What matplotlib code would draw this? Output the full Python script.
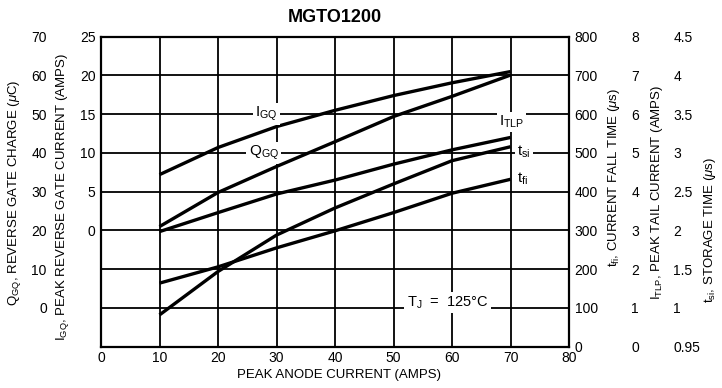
import matplotlib
matplotlib.use("Agg")
import matplotlib.pyplot as plt
from matplotlib.ticker import FixedLocator, FixedFormatter

FONT = ['Liberation Sans', 'DejaVu Sans']
plt.rcParams['font.family'] = FONT
plt.rcParams['mathtext.fontset'] = 'custom'
plt.rcParams['mathtext.rm'] = 'Liberation Sans'
plt.rcParams['mathtext.it'] = 'Liberation Sans:italic'
plt.rcParams['mathtext.bf'] = 'Liberation Sans:bold'

# ---- data ----
anode_current = [10, 20, 30, 40, 50, 60, 70]
igq = [7.2, 10.7, 13.4, 15.5, 17.4, 19.05, 20.5]          # A
qgq = [21.0, 29.8, 36.5, 42.9, 49.4, 54.6, 60.1]         # uC
itlp = [2.97, 3.46, 3.94, 4.30, 4.71, 5.08, 5.40]        # A
tfi = [164, 206, 255, 299, 346, 396, 432]                # us
tsi = [0.91, 1.47, 1.94, 2.29, 2.60, 2.90, 3.08]         # us

x_ticks = [0, 10, 20, 30, 40, 50, 60, 70, 80]
igq_ticks = [-15, -10, -5, 0, 5, 10, 15, 20, 25]
igq_labels = ['', '', '', '0', '5', '10', '15', '20', '25']
qgq_ticks = [0, 10, 20, 30, 40, 50, 60, 70]
tfi_ticks = [0, 100, 200, 300, 400, 500, 600, 700, 800]
itlp_ticks = [0, 1, 2, 3, 4, 5, 6, 7, 8]
tsi_ticks = [0.5, 1, 1.5, 2, 2.5, 3, 3.5, 4, 4.5]
tsi_labels = ['0.95', '1', '1.5', '2', '2.5', '3', '3.5', '4', '4.5']

W, H = 722, 388
fig = plt.figure(figsize=(W / 100, H / 100), dpi=100)
L, R, T, B = 101, 569, 36.7, 346.7
ax = fig.add_axes([L / W, 1 - B / H, (R - L) / W, (B - T) / H])

TS = 10
LS = 9.5

# main axis: I_GQ (left) with grid
ax.set_xlim(0, 80)
ax.set_ylim(-15, 25)
ax.xaxis.set_major_locator(FixedLocator(x_ticks))
ax.yaxis.set_major_locator(FixedLocator(igq_ticks))
ax.yaxis.set_major_formatter(FixedFormatter(igq_labels))
ax.grid(True, color='black', lw=1.3)
ax.tick_params(length=0, labelsize=TS, pad=4)
ax.tick_params(axis='x', labelsize=TS, pad=3)
for s in ax.spines.values():
    s.set_linewidth(1.6)

# Q_GQ (left, outer)
axq = ax.twinx()
axq.set_ylim(-10, 70)
axq.yaxis.tick_left()
axq.spines['left'].set_position(('outward', 35))
axq.yaxis.set_major_locator(FixedLocator(qgq_ticks))
# t_fi (right)
axf = ax.twinx()
axf.set_ylim(0, 800)
axf.yaxis.set_major_locator(FixedLocator(tfi_ticks))
# I_TLP (right, second)
axi = ax.twinx()
axi.set_ylim(0, 8)
axi.spines['right'].set_position(('outward', 41))
axi.yaxis.set_major_locator(FixedLocator(itlp_ticks))
# t_si (right, third)
axs = ax.twinx()
axs.set_ylim(0.5, 4.5)
axs.spines['right'].set_position(('outward', 71))
axs.yaxis.set_major_locator(FixedLocator(tsi_ticks))
axs.yaxis.set_major_formatter(FixedFormatter(tsi_labels))

for a in (axq, axf, axi, axs):
    for s in a.spines.values():
        s.set_visible(False)
    a.tick_params(length=0, labelsize=TS, pad=4)

lw = 2.4
ax.plot(anode_current, igq, color='black', lw=lw, solid_capstyle='butt')
axq.plot(anode_current, qgq, color='black', lw=lw, solid_capstyle='butt')
axi.plot(anode_current, itlp, color='black', lw=lw, solid_capstyle='butt')
axf.plot(anode_current, tfi, color='black', lw=lw, solid_capstyle='butt')
axs.plot(anode_current, tsi, color='black', lw=lw, solid_capstyle='butt')

bb = dict(facecolor='white', edgecolor='none', pad=1.5)
ax.text(28.3, 15, r'I$_{\rm GQ}$', fontsize=11, ha='center', va='center', bbox=bb, zorder=5)
ax.text(27.8, 10, r'Q$_{\rm GQ}$', fontsize=11, ha='center', va='center', bbox=bb, zorder=5)
ax.text(70.2, 14.0, r'I$_{\rm TLP}$', fontsize=11, ha='center', va='center', bbox=bb, zorder=5)
ax.text(72.3, 10.2, r't$_{\rm si}$', fontsize=11, ha='center', va='center', bbox=bb, zorder=5, clip_on=False)
ax.text(72.0, 6.6, r't$_{\rm fi}$', fontsize=11, ha='center', va='center', bbox=bb, zorder=5, clip_on=False)
ax.text(59.3, -9.3, r'T$_{\rm J}$  =  125°C', fontsize=10.5, ha='center', va='center',
        bbox=dict(facecolor='white', edgecolor='none', pad=2), zorder=5)

fig.text((L + R) / 2 / W, 1 - 17 / H, 'MGTO1200', fontsize=13, fontweight='bold',
         ha='center', va='center')
fig.text(339 / W, 1 - 375 / H, 'PEAK ANODE CURRENT (AMPS)', fontsize=LS, ha='center', va='center')
fig.text(15 / W, 1 - 193 / H, r'Q$_{\rm GQ}$, REVERSE GATE CHARGE ($\mu$C)', fontsize=LS,
         rotation=90, ha='center', va='center')
fig.text(63 / W, 1 - 197 / H, r'I$_{\rm GQ}$, PEAK REVERSE GATE CURRENT (AMPS)', fontsize=LS,
         rotation=90, ha='center', va='center')
fig.text(614 / W, 1 - 177 / H, r't$_{\rm fi}$, CURRENT FALL TIME ($\mu$s)', fontsize=LS,
         rotation=90, ha='center', va='center')
fig.text(657 / W, 1 - 192 / H, r'I$_{\rm TLP}$, PEAK TAIL CURRENT (AMPS)', fontsize=LS,
         rotation=90, ha='center', va='center')
fig.text(710 / W, 1 - 230 / H, r't$_{\rm si}$, STORAGE TIME ($\mu$s)', fontsize=LS,
         rotation=90, ha='center', va='center')

fig.savefig('out.png', dpi=100, facecolor='white')
